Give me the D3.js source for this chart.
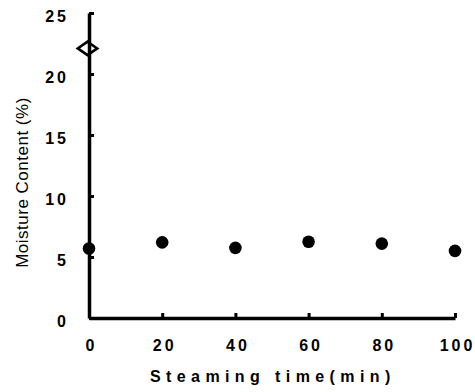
<!DOCTYPE html>
<html>
<head>
<meta charset="utf-8">
<script src="https://cdn.jsdelivr.net/npm/d3@7"></script>
<style>
  body { margin: 0; background: #fff; }
  svg { display: block; font-family: "Liberation Sans", Arial, sans-serif; }
</style>
</head>
<body>
<div id="chart"></div>
<script>
// moisture content vs steaming time
const steamTimes = [0, 20, 40, 60, 80, 100];
const moistureAfter = [5.7, 6.2, 5.75, 6.25, 6.1, 5.5];
const rawTime = [0];
const rawMoisture = [22.1];
const xTicks = [0, 20, 40, 60, 80, 100];
const yTicks = [0, 5, 10, 15, 20, 25];

const width = 475, height = 392;
const margin = { top: 13, right: 20, bottom: 74, left: 89 };

const svg = d3.select("#chart").append("svg")
    .attr("width", width)
    .attr("height", height);

const x = d3.scaleLinear().domain([0, 100]).range([margin.left, 455]);
const y = d3.scaleLinear().domain([0, 25]).range([height - margin.bottom, margin.top]);

// axes, ticks pointing inward
const xAxis = svg.append("g")
    .attr("transform", `translate(0,${y(0)})`)
    .call(d3.axisBottom(x).tickValues(xTicks).tickSize(-5).tickSizeOuter(0).tickPadding(22));

const yAxis = svg.append("g")
    .attr("transform", `translate(${x(0)},0)`)
    .call(d3.axisLeft(y).tickValues(yTicks).tickSize(-5).tickSizeOuter(0).tickPadding(20));

[xAxis, yAxis].forEach(g => {
    g.select(".domain").attr("stroke", "#000").attr("stroke-width", 3.5);
    g.selectAll(".tick line").attr("stroke", "#000").attr("stroke-width", 3);
    g.selectAll(".tick text")
        .attr("fill", "#000")
        .style("font-size", "16px")
        .style("font-weight", "bold")
        .style("letter-spacing", "3px");
});
xAxis.selectAll(".tick text").attr("dx", "2px");
yAxis.selectAll(".tick text").attr("dy", "0.55em");

// after-steaming points
svg.append("g").selectAll("circle")
    .data(steamTimes.map((t, i) => ({ t, v: moistureAfter[i] })))
    .join("circle")
    .attr("cx", d => x(d.t))
    .attr("cy", d => y(d.v))
    .attr("r", 6.3)
    .attr("fill", "#000");

// raw sample, open diamond
svg.append("g").selectAll("path")
    .data(rawTime.map((t, i) => ({ t, v: rawMoisture[i] })))
    .join("path")
    .attr("transform", d => `translate(${x(d.t) - 1.5},${y(d.v)}) scale(1.45,1)`)
    .attr("d", d3.symbol().type(d3.symbolDiamond2).size(115))
    .attr("fill", "none")
    .attr("stroke", "#000")
    .attr("stroke-width", 2.2);

// axis titles
svg.append("text")
    .attr("x", 150)
    .attr("y", 382)
    .attr("fill", "#000")
    .style("font-size", "16px")
    .style("font-weight", "bold")
    .style("letter-spacing", "5.4px")
    .text("Steaming time(min)");

svg.append("text")
    .attr("transform", `translate(28,${(y(0) + y(25)) / 2 + 17}) rotate(-90)`)
    .attr("text-anchor", "middle")
    .attr("fill", "#000")
    .style("font-size", "17px")
    .style("letter-spacing", "0.5px")
    .text("Moisture Content (%)");
</script>
</body>
</html>
